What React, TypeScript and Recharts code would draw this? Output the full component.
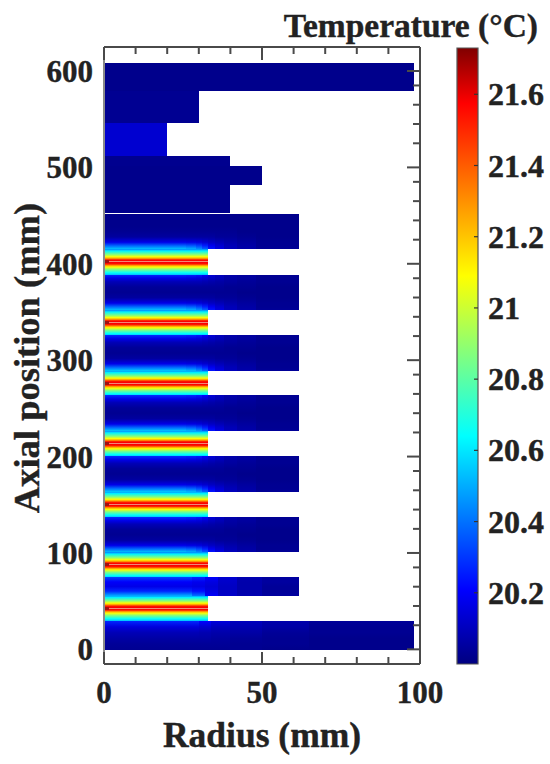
import React from 'react';
import { ComposedChart, XAxis, YAxis, ReferenceArea } from 'recharts';

// Colormap / colour bar
const jetPositions = [0, 0.12, 0.37, 0.5, 0.63, 0.91, 1];
const jetColours = [[0, 0, 128], [0, 0, 255], [0, 255, 255], [128, 255, 128], [255, 255, 0], [255, 0, 0], [128, 0, 0]];
const tempMin = 20.0;
const tempMax = 21.73;
const colourTicks = [20.2, 20.4, 20.6, 20.8, 21, 21.2, 21.4, 21.6];

// Axes
const xTicks = [0, 10, 20, 30, 40, 50, 60, 70, 80, 90, 100];
const xMajor = [0, 50, 100];
const yTicks = [0, 25, 45, 65, 85, 100, 125, 145, 165, 185, 200, 225, 245, 265, 285, 300, 325, 345, 365, 385, 400, 425, 445, 465, 485, 500, 525, 545, 565, 585, 600];
const yMajor = [0, 100, 200, 300, 400, 500, 600];

// Uniform upper blocks
const solidTop = [608.7, 579.2, 546.3, 511.8, 501.9, 482.2];
const solidBottom = [579.2, 546.3, 511.8, 501.9, 482.2, 452.7];
const solidRadius = [98.1, 30, 20, 40, 50, 40];
const solidTemp = [20.02, 20.03, 20.13, 20.025, 20.02, 20.02];

// Hot bands (r < 33)
const hotRadius = 33;
const hotTop = [415.1, 351.8, 288.9, 226.4, 163.4, 100.6, 55.6];
const hotBottom = [388.8, 325.9, 263.4, 200.4, 137.5, 74.7, 29.9];
const hotStops = [0, 0.07, 0.2, 0.3, 0.37, 0.41, 0.45, 0.55, 0.59, 0.63, 0.7, 0.8, 0.93, 1];
const hotTemps = [20.45, 20.62, 20.86, 21.09, 21.31, 21.5, 21.58, 21.58, 21.5, 21.31, 21.09, 20.86, 20.64, 20.55];

// Wide sections between the hot bands
const wideRadius = 61.6;
const wideTop = [451.5, 388.8, 325.9, 263.4, 200.4, 137.1];
const wideBottom = [415.1, 351.8, 288.9, 226.4, 163.4, 100.6];
const wideEdges = [0, 26, 29, 31, 33, 35, 38, 42, 48, wideRadius];
const wideStops = [0, 0.1, 0.2, 0.35, 0.5, 0.65, 0.8, 0.9, 1];
const wideTemps = [
  [20.28, 20.17, 20.09, 20.04, 20.03, 20.05, 20.17, 20.38, 20.55],
  [20.27, 20.16, 20.09, 20.04, 20.03, 20.05, 20.16, 20.36, 20.52],
  [20.25, 20.15, 20.09, 20.04, 20.03, 20.05, 20.15, 20.32, 20.46],
  [20.21, 20.13, 20.08, 20.04, 20.03, 20.05, 20.13, 20.26, 20.38],
  [20.14, 20.11, 20.07, 20.04, 20.03, 20.05, 20.11, 20.18, 20.24],
  [20.1, 20.09, 20.06, 20.04, 20.03, 20.04, 20.09, 20.13, 20.16],
  [20.07, 20.06, 20.05, 20.03, 20.03, 20.04, 20.07, 20.09, 20.1],
  [20.05, 20.05, 20.04, 20.03, 20.02, 20.03, 20.05, 20.06, 20.07],
  [20.03, 20.03, 20.03, 20.02, 20.02, 20.02, 20.03, 20.03, 20.04],
];
const firstWideTemps = [
  [20.02, 20.02, 20.02, 20.02, 20.03, 20.05, 20.17, 20.38, 20.55],
  [20.02, 20.02, 20.02, 20.02, 20.03, 20.05, 20.16, 20.36, 20.52],
  [20.02, 20.02, 20.02, 20.02, 20.03, 20.05, 20.15, 20.32, 20.46],
  [20.02, 20.02, 20.02, 20.02, 20.03, 20.05, 20.13, 20.26, 20.38],
  [20.02, 20.02, 20.02, 20.02, 20.03, 20.05, 20.11, 20.18, 20.24],
  [20.02, 20.02, 20.02, 20.02, 20.03, 20.04, 20.09, 20.13, 20.16],
  [20.02, 20.02, 20.02, 20.02, 20.03, 20.04, 20.07, 20.09, 20.1],
  [20.02, 20.02, 20.02, 20.02, 20.02, 20.03, 20.05, 20.06, 20.07],
  [20.02, 20.02, 20.02, 20.02, 20.02, 20.02, 20.03, 20.03, 20.04],
];

// Short section
const shortTop = 74.7;
const shortBottom = 55.6;
const shortEdges = [0, 28, 32, 36, 42, 50, wideRadius];
const shortStops = [0, 0.25, 0.5, 0.75, 1];
const shortTemps = [
  [20.32, 20.2, 20.17, 20.27, 20.5],
  [20.27, 20.18, 20.16, 20.23, 20.4],
  [20.2, 20.16, 20.14, 20.16, 20.2],
  [20.13, 20.12, 20.11, 20.11, 20.12],
  [20.08, 20.07, 20.07, 20.07, 20.08],
  [20.05, 20.05, 20.04, 20.04, 20.05],
];

// Base section
const baseTop = 29.2;
const baseBottom = -0.4;
const baseEdges = [0, 30, 34, 40, 50, 65, 98.1];
const baseStops = [0, 0.2, 0.4, 0.6, 0.8, 1];
const baseTemps = [
  [20.27, 20.15, 20.09, 20.06, 20.04, 20.03],
  [20.21, 20.13, 20.08, 20.06, 20.04, 20.03],
  [20.15, 20.1, 20.07, 20.05, 20.04, 20.03],
  [20.1, 20.08, 20.06, 20.04, 20.03, 20.03],
  [20.07, 20.06, 20.04, 20.03, 20.03, 20.02],
  [20.04, 20.03, 20.03, 20.02, 20.02, 20.02],
];

function jet(temp: number): string {
  const t = Math.min(1, Math.max(0, (temp - tempMin) / (tempMax - tempMin)));
  let i = 0;
  while (i < jetPositions.length - 2 && t > jetPositions[i + 1]) i++;
  const f = (t - jetPositions[i]) / (jetPositions[i + 1] - jetPositions[i]);
  const c = jetColours[i].map((v, k) => Math.round(v + (jetColours[i + 1][k] - v) * f));
  return `rgb(${c[0]},${c[1]},${c[2]})`;
}

type Grad = { id: string; stops: number[]; temps: number[] };
type Cell = { x1: number; x2: number; y1: number; y2: number; fill: string };

const grads: Grad[] = [];
const cells: Cell[] = [];
const NAVY = jet(20.02);

solidTop.forEach((y, i) => {
  cells.push({ x1: 0, x2: solidRadius[i], y1: solidBottom[i], y2: y, fill: jet(solidTemp[i]) });
});

function addSection(name: string, top: number, bottom: number, edges: number[], stops: number[], temps: number[][]) {
  cells.push({ x1: 0, x2: edges[edges.length - 1], y1: bottom, y2: top, fill: NAVY });
  temps.forEach((col, c) => {
    const id = `${name}-${c}`;
    if (!grads.find((g) => g.id === id)) grads.push({ id, stops, temps: col });
    cells.push({ x1: edges[c], x2: edges[c + 1], y1: bottom, y2: top, fill: `url(#${id})` });
  });
}

wideTop.forEach((top, i) => {
  if (i === 0) addSection('first', top, wideBottom[i], wideEdges, wideStops, firstWideTemps);
  else addSection('wide', top, wideBottom[i], wideEdges, wideStops, wideTemps);
});
addSection('short', shortTop, shortBottom, shortEdges, shortStops, shortTemps);
addSection('base', baseTop, baseBottom, baseEdges, baseStops, baseTemps);

grads.push({ id: 'hot', stops: hotStops, temps: hotTemps });
hotTop.forEach((top, i) => {
  const mid = (top + hotBottom[i]) / 2;
  cells.push({ x1: 0, x2: hotRadius, y1: hotBottom[i], y2: top, fill: 'url(#hot)' });
  cells.push({ x1: 0, x2: hotRadius, y1: mid - 0.5, y2: mid + 0.5, fill: '#f08878' });
  cells.push({ x1: 0, x2: 1.5, y1: mid - 1.5, y2: mid + 1.5, fill: '#a01010' });
});

const INK = '#222222';
const FRAME = '#4a4a4a';
const FONT = '"Liberation Serif", serif';
const labelStyle = { fontFamily: FONT, fontWeight: 'bold' as const, fill: INK, stroke: INK, strokeWidth: 0.4 };

const BottomTick = (p: any) => {
  const major = xMajor.includes(p.payload.value);
  return (
    <g>
      <line x1={p.x} x2={p.x} y1={p.y} y2={p.y - (major ? 12 : 7)} stroke={FRAME} strokeWidth={2} />
      {major && (
        <text x={p.x} y={p.y + 39} textAnchor="middle" fontSize={31} {...labelStyle}>
          {p.payload.value}
        </text>
      )}
    </g>
  );
};
const TopTick = (p: any) => {
  const major = xMajor.includes(p.payload.value);
  return <line x1={p.x} x2={p.x} y1={p.y} y2={p.y + (major ? 13 : 7)} stroke={FRAME} strokeWidth={2} />;
};
const LeftTick = (p: any) => {
  const major = yMajor.includes(p.payload.value);
  if (!major) return <g />;
  return (
    <text x={93} y={p.y + 11} textAnchor="end" fontSize={31} {...labelStyle}>
      {p.payload.value}
    </text>
  );
};
const RightTick = (p: any) => {
  const major = yMajor.includes(p.payload.value);
  return <line x1={p.x} x2={p.x - (major ? 13 : 7)} y1={p.y} y2={p.y} stroke={FRAME} strokeWidth={2} />;
};
const BarTick = (p: any) => (
  <g>
    <line x1={p.x} x2={p.x - 4} y1={p.y} y2={p.y} stroke="#333" strokeWidth={1.2} />
    <text x={488} y={p.y + 11} textAnchor="start" fontSize={32} {...labelStyle}>
      {p.payload.value}
    </text>
  </g>
);

const chartRows = xTicks.map((r) => ({ r }));
const barRows = [{ r: 0 }, { r: 1 }];

export default function App() {
  const axisLine = { stroke: FRAME, strokeWidth: 2 };
  return (
    <div style={{ position: 'absolute', left: 0, top: 0, width: 550, height: 764, background: '#fff' }}>
      <div style={{ position: 'absolute', left: 0, top: 0 }}>
        <ComposedChart width={550} height={764} data={chartRows} margin={{ top: 17, left: 0, right: 100, bottom: 0 }}>
          <defs>
            {grads.map((g) => (
              <linearGradient key={g.id} id={g.id} x1="0" y1="0" x2="0" y2="1">
                {g.stops.map((s, i) => (
                  <stop key={i} offset={s} stopColor={jet(g.temps[i])} />
                ))}
              </linearGradient>
            ))}
          </defs>
          <XAxis xAxisId="b" dataKey="r" type="number" domain={[0, 100]} ticks={xTicks} interval={0} height={100} axisLine={axisLine} tickLine={false} tickSize={0} tickMargin={0} tick={<BottomTick />} allowDataOverflow />
          <XAxis xAxisId="t" dataKey="r" orientation="top" type="number" domain={[0, 100]} ticks={xTicks} interval={0} height={30} axisLine={axisLine} tickLine={false} tickSize={0} tickMargin={0} tick={<TopTick />} allowDataOverflow />
          <YAxis yAxisId="l" type="number" domain={[-15.2, 624.9]} ticks={yTicks} interval={0} width={104} axisLine={{ stroke: '#8a8a8a', strokeWidth: 2 }} tickLine={false} tickSize={0} tickMargin={0} tick={<LeftTick />} allowDataOverflow />
          <YAxis yAxisId="r" orientation="right" type="number" domain={[-15.2, 624.9]} ticks={yTicks} interval={0} width={30} axisLine={axisLine} tickLine={false} tickSize={0} tickMargin={0} tick={<RightTick />} allowDataOverflow />
          {cells.map((c, i) => (
            <ReferenceArea key={i} xAxisId="b" yAxisId="l" x1={c.x1} x2={c.x2} y1={c.y1} y2={c.y2} fill={c.fill} fillOpacity={1} stroke="none" shapeRendering="crispEdges" ifOverflow="visible" />
          ))}
          <text x={262} y={747} textAnchor="middle" fontSize={35.5} {...labelStyle}>
            Radius (mm)
          </text>
          <text transform="translate(39,358) rotate(-90)" textAnchor="middle" fontSize={36.5} {...labelStyle}>
            Axial position (mm)
          </text>
        </ComposedChart>
      </div>
      <div style={{ position: 'absolute', left: 0, top: 0 }}>
        <ComposedChart width={550} height={764} data={barRows} margin={{ top: 48, left: 457, right: 0, bottom: 100 }}>
          <defs>
            <linearGradient id="bar" x1="0" y1="1" x2="0" y2="0">
              {jetPositions.map((p, i) => (
                <stop key={i} offset={p} stopColor={`rgb(${jetColours[i].join(',')})`} />
              ))}
            </linearGradient>
          </defs>
          <XAxis xAxisId="b" dataKey="r" type="number" domain={[0, 1]} hide allowDataOverflow />
          <YAxis yAxisId="r" orientation="right" type="number" domain={[tempMin, tempMax]} ticks={colourTicks} interval={0} width={72} axisLine={false} tickLine={false} tickSize={0} tickMargin={0} tick={<BarTick />} allowDataOverflow />
          <ReferenceArea xAxisId="b" yAxisId="r" x1={0} x2={1} y1={tempMin} y2={tempMax} fill="url(#bar)" fillOpacity={1} stroke="#555" strokeWidth={1.2} ifOverflow="visible" />
          <text x={538} y={37} textAnchor="end" fontSize={33.5} {...labelStyle}>
            Temperature (°C)
          </text>
        </ComposedChart>
      </div>
    </div>
  );
}
